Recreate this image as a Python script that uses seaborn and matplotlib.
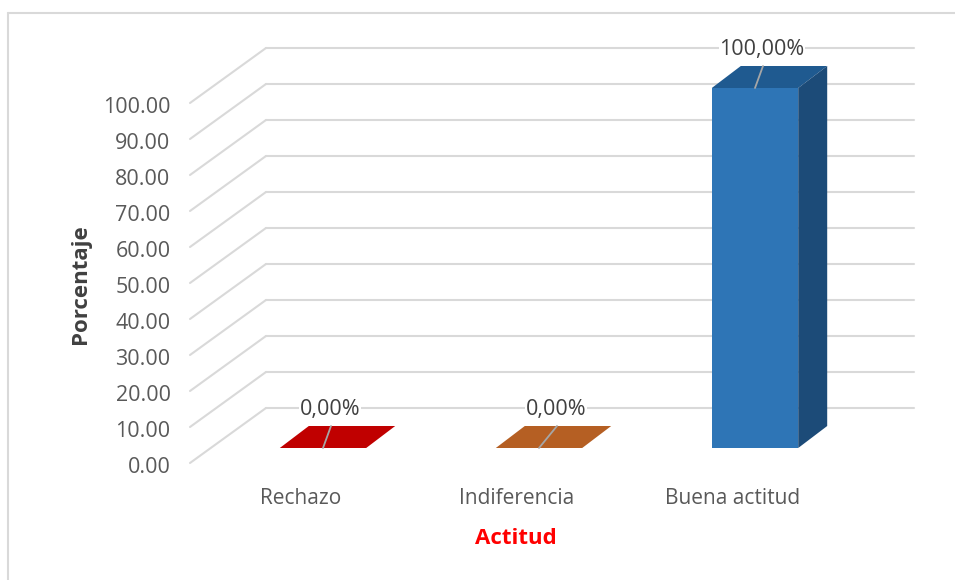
import matplotlib
matplotlib.use('Agg')
import matplotlib.pyplot as plt
import seaborn as sns
from matplotlib.lines import Line2D
from matplotlib.patches import Polygon
from matplotlib.transforms import Affine2D

categorias = ['Rechazo', 'Indiferencia', 'Buena actitud']
porcentajes = [0.0, 0.0, 100.0]
etiquetas = ['0,00%', '0,00%', '100,00%']
ticks_y = [0, 10, 20, 30, 40, 50, 60, 70, 80, 90, 100]

color_frente = ['#c00000', '#b55f23', '#2e75b6']
color_tapa = ['#c00000', '#b55f23', '#1f5a90']
color_lado = ['#8f0000', '#864619', '#1c4b78']
gris = '#d9d9d9'
# corrimiento horizontal de cada etiqueta de datos y de su linea guia
corrimiento_etiqueta = [32, 42, 32]
corrimiento_guia = [33, 43, 33]

sns.set_theme(style='white')
plt.rcParams['font.family'] = ['Open Sans', 'DejaVu Sans']

W, H = 955, 580
fig = plt.figure(figsize=(W / 100, H / 100), dpi=100)
ax = fig.add_axes([190 / W, 1 - 463 / H, 648 / W, 360 / H])


def corrido(dx, dy):
    # desplazamiento en pixeles para simular la profundidad
    return ax.transData + Affine2D().translate(dx, dy)


sns.barplot(x=categorias, y=porcentajes, hue=categorias, palette=color_frente,
            width=0.4, legend=False, dodge=False, saturation=1, ax=ax, zorder=3)
ax.set_xlim(-0.5, 2.5)
ax.set_ylim(0, 100)

# pared del fondo y pared izquierda
for t in ticks_y:
    ax.plot([-0.5, 2.5], [t, t], color=gris, lw=1.5, clip_on=False, zorder=1,
            transform=corrido(76, 55))
    ax.add_line(Line2D([0, 76], [0, 55], color=gris, lw=1.5, clip_on=False, zorder=1,
                       transform=Affine2D().translate(*ax.transData.transform((-0.5, t)))))

# barras: cara frontal corrida, tapa y lado
for i, barra in enumerate(list(ax.patches)):
    x0, x1 = barra.get_x(), barra.get_x() + barra.get_width()
    alto = barra.get_height()
    barra.set_transform(corrido(25, 15))
    barra.set_edgecolor('none')
    barra.set_clip_on(False)
    p0 = ax.transData.transform((x0, alto))
    p1 = ax.transData.transform((x1, alto))
    ax.add_patch(Polygon([p0 + (25, 15), p1 + (25, 15), p1 + (54, 37), p0 + (54, 37)],
                         closed=True, facecolor=color_tapa[i], edgecolor='none',
                         transform=None, clip_on=False, zorder=3))
    if alto > 0:
        b1 = ax.transData.transform((x1, 0))
        ax.add_patch(Polygon([b1 + (25, 15), p1 + (25, 15), p1 + (54, 37), b1 + (54, 37)],
                             closed=True, facecolor=color_lado[i], edgecolor='none',
                             transform=None, clip_on=False, zorder=3))
    centro = (x0 + x1) / 2
    c = ax.transData.transform((centro, alto))
    ax.add_line(Line2D([c[0] + 25, c[0] + corrimiento_guia[i]], [c[1] + 15, c[1] + 37],
                       color='#a6a6a6', lw=1.3, transform=None, clip_on=False, zorder=4))
    ax.text(centro, alto, etiquetas[i], transform=corrido(corrimiento_etiqueta[i], 53),
            ha='center', va='center', fontsize=15.5, color='#404040', zorder=5,
            bbox=dict(facecolor='white', edgecolor='none', pad=0.5))

ax.set_yticks(ticks_y)
ax.set_yticklabels(['{:.2f}'.format(t) for t in ticks_y])
ax.tick_params(axis='y', length=0, pad=14, labelsize=15.5, labelcolor='#595959')
ax.tick_params(axis='x', length=0, pad=18, labelsize=15, labelcolor='#595959')
for lab in ax.get_yticklabels():
    lab.set_transform(lab.get_transform() + Affine2D().translate(0, -2))
for lab in ax.get_xticklabels():
    lab.set_transform(lab.get_transform() + Affine2D().translate(3, 0))
sns.despine(ax=ax, left=True, bottom=True)
ax.set_xlabel('')
ax.set_ylabel('')
ax.patch.set_alpha(0)

fig.text(80 / W, 1 - 284 / H, 'Porcentaje', rotation=90, ha='center', va='center',
         fontsize=16, fontweight='bold', color='#404040')
fig.text(516 / W, 1 - 538 / H, 'Actitud', ha='center', va='center',
         fontsize=16, fontweight='bold', color='#ff0000')

# marco del grafico
fig.add_artist(Line2D([8 / W, 1], [1 - 13 / H, 1 - 13 / H], color=gris, lw=1.5))
fig.add_artist(Line2D([8 / W, 8 / W], [0, 1 - 13 / H], color=gris, lw=1.5))

fig.savefig('out.png', dpi=100)
